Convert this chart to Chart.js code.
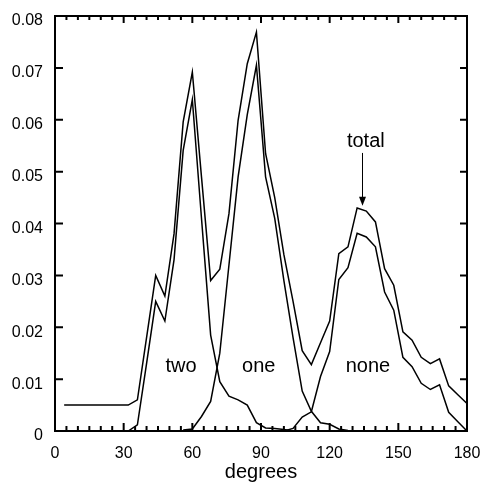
<!DOCTYPE html>
<html>
<head>
<meta charset="utf-8">
<script src="https://cdn.jsdelivr.net/npm/chart.js@4/dist/chart.umd.min.js"></script>
<style>
  body { margin: 0; background: #fff; }
  #wrap { width: 482px; height: 484px; }
</style>
</head>
<body>
<div id="wrap"><canvas id="chart" width="482" height="484"></canvas></div>
<script>
// angle bins (degrees)
const degrees = [4, 8, 12, 16, 20, 24, 28, 32, 36, 40, 44, 48, 52, 56, 60, 64, 68, 72, 76, 80, 84, 88, 92,
    96, 100, 104, 108, 112, 116, 120, 124, 128, 132, 136, 140, 144, 148, 152, 156, 160, 164, 168, 172, 176, 180];

const total = [0.005, 0.005, 0.005, 0.005, 0.005, 0.005, 0.005, 0.005, 0.006, 0.018, 0.030, 0.026, 0.038,
    0.0596, 0.0692, 0.049, 0.029, 0.0312, 0.0419, 0.0599, 0.0708, 0.0769, 0.0535, 0.045, 0.034, 0.025,
    0.0155, 0.0128, 0.017, 0.0212, 0.0342, 0.0355, 0.043, 0.0424, 0.0403, 0.0313, 0.0281, 0.0191, 0.0175,
    0.0142, 0.013, 0.0139, 0.0087, 0.007, 0.0053];

const two = [null, null, null, null, null, null, null, 0, 0.0012, 0.013, 0.025, 0.0212, 0.033, 0.0541,
    0.0639, 0.041, 0.0185, 0.0095, 0.0067, 0.006, 0.005, 0.0016, 0.0006, 0.0005, 0.0003, 0, null, null,
    null, null, null, null, null, null, null, null, null, null, null, null, null, null, null, null, null];

const one = [null, null, null, null, null, null, null, null, null, null, null, null, null, 0.0002, 0.0004,
    0.0028, 0.0057, 0.015, 0.032, 0.049, 0.061, 0.0705, 0.049, 0.041, 0.029, 0.018, 0.0077, 0.0038,
    0.0016, 0.0013, 0.0004, 0.0001, 0, null, null, null, null, null, null, null, null, null, null, null, null];

const none = [null, null, null, null, null, null, null, null, null, null, null, null, null, null, null,
    null, null, null, null, null, null, null, null, null, 0, 0.0005, 0.0027, 0.0037, 0.0105, 0.0153,
    0.0292, 0.0315, 0.0381, 0.0374, 0.0355, 0.0268, 0.0233, 0.0142, 0.0124, 0.0092, 0.008, 0.0089,
    0.0036, 0.0018, 0];

const xTicks = [0, 30, 60, 90, 120, 150, 180];
const yTicks = [0, 0.01, 0.02, 0.03, 0.04, 0.05, 0.06, 0.07, 0.08];

const FONT = '"Liberation Sans", Arial, sans-serif';

function toPoints(values) {
    return degrees.map((d, i) => ({ x: d, y: values[i] }));
}

function curve(label, values) {
    return {
        label: label,
        data: toPoints(values),
        borderColor: '#000',
        borderWidth: 1.5,
        pointRadius: 0,
        tension: 0,
        spanGaps: false
    };
}

// frame, inward ticks, curve names and the arrow
const decorations = {
    id: 'decorations',
    afterDatasetsDraw(chart) {
        const { ctx, chartArea: a, scales: { x, y } } = chart;
        ctx.save();
        ctx.strokeStyle = '#000';
        ctx.lineWidth = 2;
        ctx.strokeRect(a.left, a.top, a.right - a.left, a.bottom - a.top);

        ctx.beginPath();
        for (let d = 5; d < 180; d += 5) {
            const px = x.getPixelForValue(d);
            const major = d % 30 === 0;
            ctx.moveTo(px, a.bottom);
            ctx.lineTo(px, a.bottom - (major ? 8 : 5));
            ctx.moveTo(px, a.top);
            ctx.lineTo(px, a.top + (major ? 7 : 4));
        }
        yTicks.forEach(v => {
            const py = y.getPixelForValue(v);
            ctx.moveTo(a.left, py);
            ctx.lineTo(a.left + 8, py);
            ctx.moveTo(a.right, py);
            ctx.lineTo(a.right - 7, py);
        });
        ctx.stroke();

        ctx.fillStyle = '#000';
        ctx.font = '20px ' + FONT;
        ctx.textAlign = 'center';
        ctx.textBaseline = 'alphabetic';
        ctx.fillText('two', x.getPixelForValue(55.1), y.getPixelForValue(0.0113));
        ctx.fillText('one', x.getPixelForValue(89.0), y.getPixelForValue(0.0113));
        ctx.fillText('none', x.getPixelForValue(136.7), y.getPixelForValue(0.0113));
        ctx.fillText('total', x.getPixelForValue(135.8), y.getPixelForValue(0.0548));

        // arrow pointing at the total peak
        const ax = Math.round(x.getPixelForValue(134.2)) + 0.5;
        const y0 = y.getPixelForValue(0.0536);
        const y1 = y.getPixelForValue(0.0434);
        ctx.lineWidth = 1;
        ctx.beginPath();
        ctx.moveTo(ax, y0);
        ctx.lineTo(ax, y1 - 6);
        ctx.stroke();
        ctx.beginPath();
        ctx.moveTo(ax, y1);
        ctx.lineTo(ax - 3.5, y1 - 9);
        ctx.lineTo(ax + 3.5, y1 - 9);
        ctx.closePath();
        ctx.fill();
        ctx.restore();
    }
};

new Chart(document.getElementById('chart'), {
    type: 'line',
    data: {
        datasets: [
            curve('total', total),
            curve('two', two),
            curve('one', one),
            curve('none', none)
        ]
    },
    options: {
        responsive: false,
        animation: false,
        layout: { padding: { top: 16, right: 15, left: 0, bottom: 0 } },
        plugins: {
            legend: { display: false },
            tooltip: { enabled: false }
        },
        scales: {
            x: {
                type: 'linear',
                min: 0,
                max: 180,
                afterFit: s => {
                    s.height = 53;
                    s.paddingLeft = 0;
                    s.paddingRight = 0;
                },
                afterBuildTicks: s => { s.ticks = xTicks.map(v => ({ value: v })); },
                grid: { display: false, drawTicks: false },
                border: { display: false },
                ticks: {
                    color: '#000',
                    font: { family: FONT, size: 16 },
                    padding: 13,
                    maxRotation: 0
                },
                title: {
                    display: true,
                    text: 'degrees',
                    color: '#000',
                    font: { family: FONT, size: 20 },
                    padding: { top: 0, bottom: 0 }
                }
            },
            y: {
                type: 'linear',
                min: 0,
                max: 0.08,
                afterFit: s => {
                    s.width = 55;
                    s.paddingTop = 0;
                    s.paddingBottom = 0;
                },
                afterBuildTicks: s => { s.ticks = yTicks.map(v => ({ value: v })); },
                grid: { display: false, drawTicks: false },
                border: { display: false },
                ticks: {
                    color: '#000',
                    font: { family: FONT, size: 16 },
                    padding: 12,
                    labelOffset: 5,
                    callback: v => v === 0 ? '0' : v.toFixed(2)
                }
            }
        }
    },
    plugins: [decorations]
});
</script>
</body>
</html>
